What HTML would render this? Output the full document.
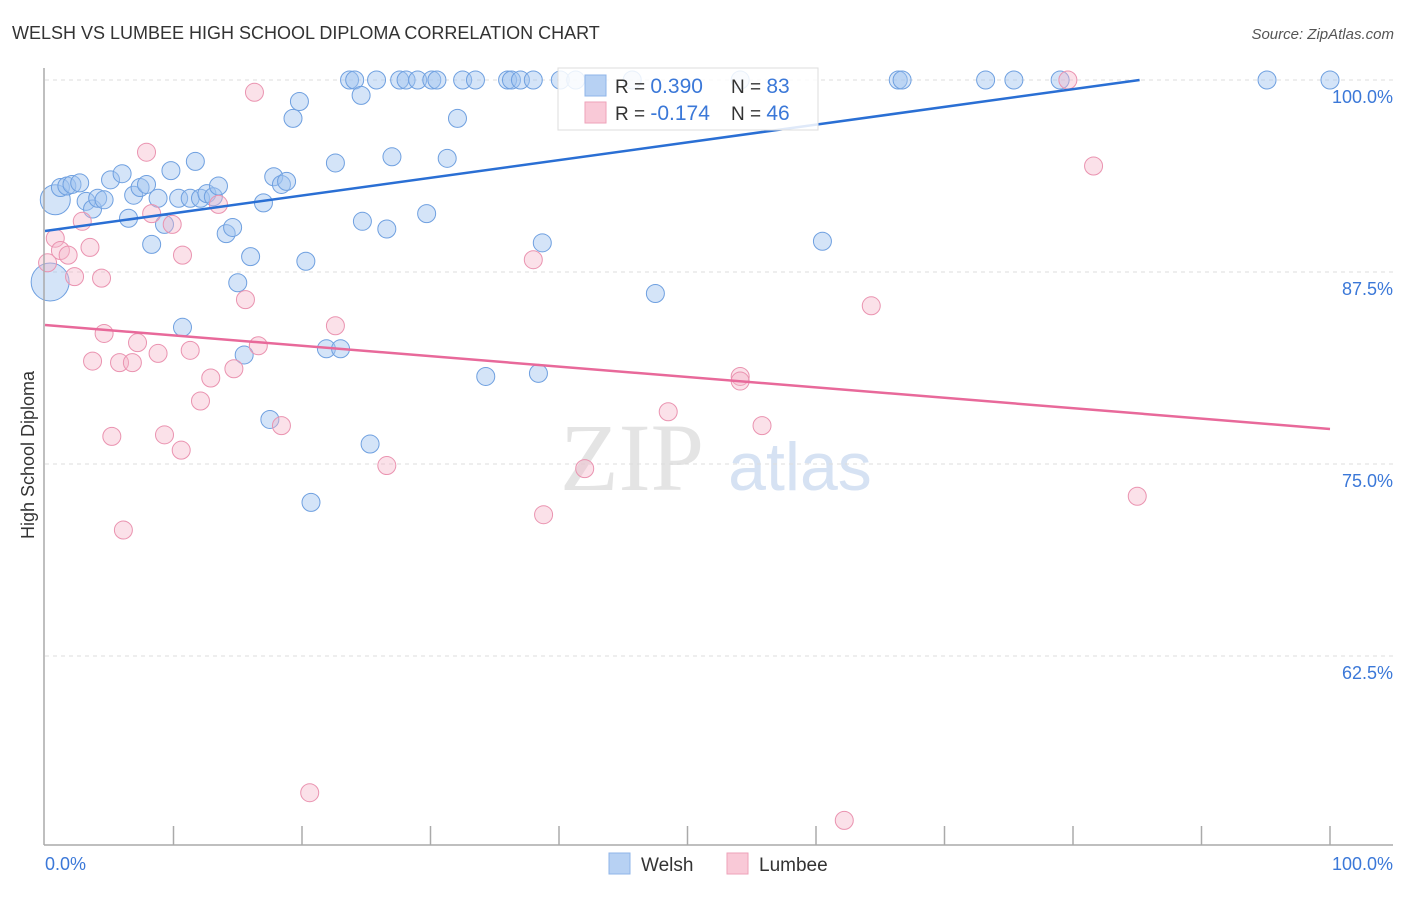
<!DOCTYPE html>
<html><head><meta charset="utf-8"><style>
body{margin:0;background:#fff;font-family:"Liberation Sans",sans-serif}
svg text{font-family:"Liberation Sans",sans-serif}
</style></head><body>
<svg id="c" width="1406" height="892" xmlns="http://www.w3.org/2000/svg">
<text x="12" y="39" font-size="18" fill="#333">WELSH VS LUMBEE HIGH SCHOOL DIPLOMA CORRELATION CHART</text>
<text x="1394" y="39" font-size="15" fill="#555" font-style="italic" text-anchor="end">Source: ZipAtlas.com</text>
<text x="632" y="490" font-size="96" fill="#e4e4e4" font-family="Liberation Serif" text-anchor="middle" style="font-family:'Liberation Serif',serif">ZIP</text>
<text x="800" y="490" font-size="68" fill="#d6e2f3" text-anchor="middle">atlas</text>
<g id="grid"></g><g id="pts"></g><g id="lines"></g>
<line x1="44" y1="68" x2="44" y2="845" stroke="#aaa" stroke-width="1.5"/>
<line x1="44" y1="845" x2="1393" y2="845" stroke="#aaa" stroke-width="1.5"/>
<text transform="translate(34,455) rotate(-90)" font-size="18" fill="#333" text-anchor="middle">High School Diploma</text>
<text x="45" y="870" font-size="18" fill="#3b78d8">0.0%</text>
<text x="1393" y="870" font-size="18" fill="#3b78d8" text-anchor="end">100.0%</text>
<g>
<rect x="558" y="68" width="260" height="62" fill="rgba(255,255,255,0.85)" stroke="#ddd"/>
<rect x="585" y="75" width="21" height="21" fill="#b7d1f3" stroke="#8fb5e8"/>
<rect x="585" y="102" width="21" height="21" fill="#f9c9d7" stroke="#eea2ba"/>
<text x="615" y="93" font-size="19" fill="#333">R = <tspan fill="#3b78d8" font-size="21">0.390</tspan></text>
<text x="731" y="93" font-size="19" fill="#333">N = <tspan fill="#3b78d8" font-size="21">83</tspan></text>
<text x="615" y="120" font-size="19" fill="#333">R = <tspan fill="#3b78d8" font-size="21">-0.174</tspan></text>
<text x="731" y="120" font-size="19" fill="#333">N = <tspan fill="#3b78d8" font-size="21">46</tspan></text>
</g>
<g>
<rect x="609" y="853" width="21" height="21" fill="#b7d1f3" stroke="#8fb5e8"/>
<text x="641" y="871" font-size="19" fill="#333">Welsh</text>
<rect x="727" y="853" width="21" height="21" fill="#f9c9d7" stroke="#eea2ba"/>
<text x="759" y="871" font-size="19" fill="#333">Lumbee</text>
</g>
</svg>
<script>
const yTicks=[100,87.5,75,62.5];
const yTickLabels=["100.0%","87.5%","75.0%","62.5%"];
const xTicks=[10,20,30,40,50,60,70,80,90,100];
const welshX=[0.8,0.4,1.2,1.7,2.1,2.7,3.2,3.7,4.1,4.6,5.1,6.0,6.5,6.9,7.4,7.9,8.3,8.8,9.3,9.8,10.4,10.7,11.3,11.7,12.1,12.6,13.1,13.5,14.1,14.6,15.0,15.5,16.0,17.0,17.5,17.8,18.4,18.8,19.3,19.8,20.3,20.7,21.9,22.6,23.0,23.7,24.1,24.6,24.7,25.3,25.8,26.6,27.0,27.6,28.1,29.0,29.7,30.1,30.5,31.3,32.1,32.5,33.5,34.3,36.0,36.3,37.0,38.0,38.4,38.7,40.1,41.3,45.7,47.5,54.1,60.5,66.4,66.7,73.2,75.4,79.0,95.1,100];
const welshY=[92.2,86.85,93.0,93.1,93.2,93.3,92.1,91.6,92.3,92.2,93.5,93.9,91.0,92.5,93.0,93.2,89.3,92.3,90.6,94.1,92.3,83.9,92.3,94.7,92.3,92.6,92.4,93.1,90.0,90.4,86.8,82.1,88.5,92.0,77.9,93.7,93.2,93.4,97.5,98.6,88.2,72.5,82.5,94.6,82.5,100,100,99.0,90.8,76.3,100,90.3,95.0,100,100,100,91.3,100,100,94.9,97.5,100,100,80.7,100,100,100,100,80.9,89.4,100,100,100,86.1,100,89.5,100,100,100,100,100,100,100];
const welshBig=[15,19];
const lumbeeX=[0.2,0.8,1.2,1.8,2.3,2.9,3.5,4.4,4.6,3.7,5.2,5.8,6.1,6.8,7.2,7.9,8.3,8.8,9.3,9.9,10.6,10.7,11.3,12.1,12.9,13.5,14.7,15.6,16.6,18.4,20.6,22.6,26.6,38.0,38.8,42.0,48.5,54.1,54.1,55.8,62.2,64.3,79.6,81.6,85.0,16.3];
const lumbeeY=[88.1,89.7,88.9,88.6,87.2,90.8,89.1,87.1,83.5,81.7,76.8,81.6,70.7,81.6,82.9,95.3,91.3,82.2,76.9,90.6,75.9,88.6,82.4,79.1,80.6,91.9,81.2,85.7,82.7,77.5,53.6,84.0,74.9,88.3,71.7,74.7,78.4,80.7,80.4,77.5,51.8,85.3,100,94.4,72.9,99.2];
const welshTrend=[90.17,0.1154];
const lumbeeTrend=[84.05,-0.0677];
const NS="http://www.w3.org/2000/svg";
const X=v=>45+v*12.85, Y=v=>80+(100-v)*15.36;
function mk(t,a,p){const e=document.createElementNS(NS,t);for(const k in a)e.setAttribute(k,a[k]);p.appendChild(e);return e;}
const grid=document.getElementById('grid');
yTicks.forEach((t,i)=>{
  const l=mk('line',{x1:45,x2:1393,y1:Y(t),y2:Y(t),stroke:'#ddd','stroke-dasharray':'4,4'},grid);
  
  
  const tx=mk('text',{x:1393,y:Y(t)+23,'font-size':18,fill:'#3b78d8','text-anchor':'end'},grid);
  tx.textContent=yTickLabels[i];
  
  
});
xTicks.forEach(t=>{
  const l=mk('line',{x1:X(t),x2:X(t),y1:826,y2:845,stroke:'#aaa','stroke-width':1.5},grid);
  
  
});
const pts=document.getElementById('pts');
welshX.forEach((x,i)=>{
  const r=i<welshBig.length?welshBig[i]:9;
  const c=mk('circle',{cx:X(x),cy:Y(welshY[i]),r:r,fill:'rgba(160,196,240,0.45)',stroke:'#6fa0e0','stroke-width':1},pts);
  
  
});
lumbeeX.forEach((x,i)=>{
  const c=mk('circle',{cx:X(x),cy:Y(lumbeeY[i]),r:9,fill:'rgba(246,180,200,0.4)',stroke:'#ea93b0','stroke-width':1},pts);
  
  
});
const lines=document.getElementById('lines');
let xe=Math.min(100,(100-welshTrend[0])/welshTrend[1]);
const wl=mk('line',{x1:X(0),y1:Y(welshTrend[0]),x2:X(xe),y2:Y(welshTrend[0]+welshTrend[1]*xe),stroke:'#2a6fd4','stroke-width':2.5},lines);


const ll=mk('line',{x1:X(0),y1:Y(lumbeeTrend[0]),x2:X(100),y2:Y(lumbeeTrend[0]+lumbeeTrend[1]*100),stroke:'#e8699a','stroke-width':2.5},lines);


</script>
</body></html>
